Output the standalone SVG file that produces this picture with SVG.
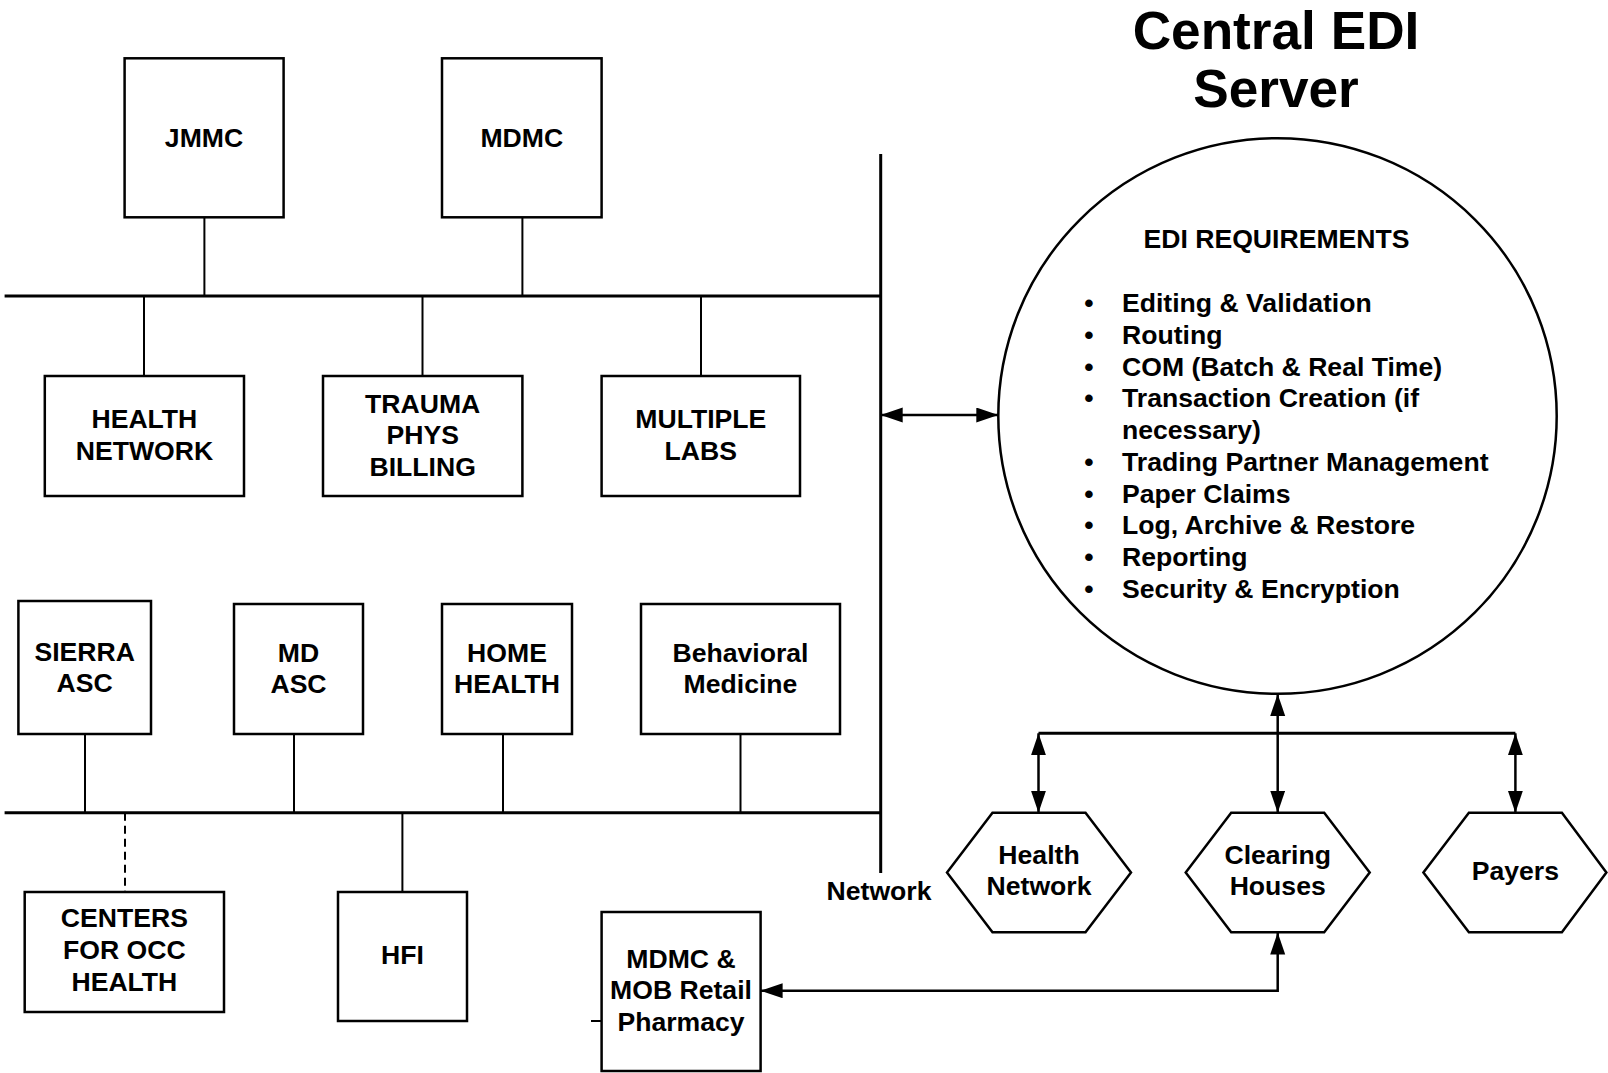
<svg xmlns="http://www.w3.org/2000/svg" width="1608" height="1073" viewBox="0 0 1608 1073">
<style>
  .box { fill: #fff; stroke: #000; stroke-width: 2.5; }
  .lbl { font-family: "Liberation Sans", Arial, sans-serif; font-weight: bold; font-size: 26.6px; fill: #000; text-anchor: middle; }
  .lst { font-family: "Liberation Sans", Arial, sans-serif; font-weight: bold; font-size: 26.6px; fill: #000; }
  .title { font-family: "Liberation Sans", Arial, sans-serif; font-weight: bold; font-size: 53.2px; fill: #000; text-anchor: middle; }
  .bus { stroke: #000; stroke-width: 3; fill: none; }
  .ln { stroke: #000; stroke-width: 2; fill: none; }
  .arr { stroke: #000; stroke-width: 2.5; fill: none; marker-start: url(#ah); marker-end: url(#ah); }
</style>
<defs>
  <marker id="ah" markerUnits="userSpaceOnUse" markerWidth="23" markerHeight="16" refX="22" refY="7.5" orient="auto-start-reverse">
    <path d="M0,0 L22,7.5 L0,15 Z" fill="#000"/>
  </marker>
</defs>
<rect width="1608" height="1073" fill="#fff"/>

<g id="title">
  <text class="title" x="1276" y="48.5">Central EDI</text>
  <text class="title" x="1276" y="107">Server</text>
</g>

<g id="connectors">
  <line class="bus" x1="4.6" y1="296" x2="880.7" y2="296"/>
  <line class="ln" x1="204.4" y1="216" x2="204.4" y2="296"/>
  <line class="ln" x1="522.4" y1="216" x2="522.4" y2="296"/>
  <line class="ln" x1="144" y1="296" x2="144" y2="376"/>
  <line class="ln" x1="422.5" y1="296" x2="422.5" y2="376"/>
  <line class="ln" x1="701" y1="296" x2="701" y2="376"/>
  <line class="bus" x1="880.7" y1="154" x2="880.7" y2="873" stroke-width="2.5"/>
  <line class="bus" x1="4.6" y1="812.7" x2="880.7" y2="812.7"/>
  <line class="ln" x1="85" y1="734" x2="85" y2="812.7"/>
  <line class="ln" x1="294" y1="734" x2="294" y2="812.7"/>
  <line class="ln" x1="503" y1="734" x2="503" y2="812.7"/>
  <line class="ln" x1="740.5" y1="734" x2="740.5" y2="812.7"/>
  <line class="ln" x1="125" y1="812.7" x2="125" y2="892" stroke-dasharray="8,5"/>
  <line class="ln" x1="402.4" y1="812.7" x2="402.4" y2="892"/>
  <line class="ln" x1="591" y1="1021" x2="601.6" y2="1021" stroke-width="1.5"/>
  <line class="arr" x1="880.7" y1="415" x2="998.3" y2="415"/>
  <line class="arr" x1="1277.7" y1="694" x2="1277.7" y2="812.7"/>
  <line class="bus" x1="1038.5" y1="733.3" x2="1515.4" y2="733.3" stroke-width="2.5"/>
  <line class="arr" x1="1038.5" y1="733.3" x2="1038.5" y2="812.7"/>
  <line class="arr" x1="1515.4" y1="733.3" x2="1515.4" y2="812.7"/>
  <polyline class="arr" points="1277.7,932.5 1277.7,990.7 760.6,990.7"/>
</g>

<g id="jmmc">
  <rect class="box" x="124.6" y="58.3" width="159" height="159"/>
  <text class="lbl" x="204" y="147">JMMC</text>
</g>
<g id="mdmc">
  <rect class="box" x="442" y="58.3" width="159.6" height="159"/>
  <text class="lbl" x="521.8" y="147">MDMC</text>
</g>
<g id="health-network-box">
  <rect class="box" x="44.8" y="376" width="199.2" height="120"/>
  <text class="lbl" x="144.4" y="427.7">HEALTH</text>
  <text class="lbl" x="144.4" y="459.5">NETWORK</text>
</g>
<g id="trauma">
  <rect class="box" x="323" y="376" width="199.4" height="120"/>
  <text class="lbl" x="422.7" y="412.5">TRAUMA</text>
  <text class="lbl" x="422.7" y="444.3">PHYS</text>
  <text class="lbl" x="422.7" y="476">BILLING</text>
</g>
<g id="labs">
  <rect class="box" x="601.6" y="376" width="198.4" height="120"/>
  <text class="lbl" x="700.8" y="427.7">MULTIPLE</text>
  <text class="lbl" x="700.8" y="459.5">LABS</text>
</g>
<g id="sierra">
  <rect class="box" x="18.4" y="601" width="132.6" height="133"/>
  <text class="lbl" x="84.7" y="660.5">SIERRA</text>
  <text class="lbl" x="84.7" y="691.5">ASC</text>
</g>
<g id="mdasc">
  <rect class="box" x="234" y="604" width="129" height="130"/>
  <text class="lbl" x="298.5" y="661.5">MD</text>
  <text class="lbl" x="298.5" y="692.5">ASC</text>
</g>
<g id="homehealth">
  <rect class="box" x="442" y="604" width="130" height="130"/>
  <text class="lbl" x="507" y="661.5">HOME</text>
  <text class="lbl" x="507" y="692.5">HEALTH</text>
</g>
<g id="behavioral">
  <rect class="box" x="641" y="604" width="199" height="130"/>
  <text class="lbl" x="740.5" y="661.5">Behavioral</text>
  <text class="lbl" x="740.5" y="692.5">Medicine</text>
</g>
<g id="centers">
  <rect class="box" x="24.7" y="892" width="199.3" height="120"/>
  <text class="lbl" x="124.4" y="927">CENTERS</text>
  <text class="lbl" x="124.4" y="959">FOR OCC</text>
  <text class="lbl" x="124.4" y="990.7">HEALTH</text>
</g>
<g id="hfi">
  <rect class="box" x="338" y="892" width="129" height="129"/>
  <text class="lbl" x="402.5" y="964">HFI</text>
</g>
<g id="pharmacy">
  <rect class="box" x="601.6" y="912" width="159" height="159"/>
  <text class="lbl" x="681" y="968">MDMC &amp;</text>
  <text class="lbl" x="681" y="999">MOB Retail</text>
  <text class="lbl" x="681" y="1030.7">Pharmacy</text>
</g>
<g id="network-label">
  <text class="lbl" x="879" y="899.5">Network</text>
</g>

<g id="edi-server">
  <ellipse class="box" cx="1277.5" cy="416" rx="279.2" ry="277.8"/>
  <text class="lbl" x="1276.5" y="248">EDI REQUIREMENTS</text>
  <g class="lst">
    <text x="1089" y="312" text-anchor="middle">•</text><text x="1122" y="312">Editing &amp; Validation</text>
    <text x="1089" y="343.8" text-anchor="middle">•</text><text x="1122" y="343.8">Routing</text>
    <text x="1089" y="375.5" text-anchor="middle">•</text><text x="1122" y="375.5">COM (Batch &amp; Real Time)</text>
    <text x="1089" y="407.3" text-anchor="middle">•</text><text x="1122" y="407.3">Transaction Creation (if</text>
    <text x="1122" y="439">necessary)</text>
    <text x="1089" y="470.8" text-anchor="middle">•</text><text x="1122" y="470.8">Trading Partner Management</text>
    <text x="1089" y="502.5" text-anchor="middle">•</text><text x="1122" y="502.5">Paper Claims</text>
    <text x="1089" y="534.3" text-anchor="middle">•</text><text x="1122" y="534.3">Log, Archive &amp; Restore</text>
    <text x="1089" y="566" text-anchor="middle">•</text><text x="1122" y="566">Reporting</text>
    <text x="1089" y="597.8" text-anchor="middle">•</text><text x="1122" y="597.8">Security &amp; Encryption</text>
  </g>
</g>

<g id="hex-health-network">
  <polygon class="box" points="947,872.5 992.5,812.7 1085.5,812.7 1131,872.5 1085.5,932.3 992.5,932.3"/>
  <text class="lbl" x="1039" y="863.5">Health</text>
  <text class="lbl" x="1039" y="895.3">Network</text>
</g>
<g id="hex-clearing">
  <polygon class="box" points="1185.7,872.5 1231.2,812.7 1324.2,812.7 1369.7,872.5 1324.2,932.3 1231.2,932.3"/>
  <text class="lbl" x="1277.7" y="863.5">Clearing</text>
  <text class="lbl" x="1277.7" y="895.3">Houses</text>
</g>
<g id="hex-payers">
  <polygon class="box" points="1423.4,872.5 1468.9,812.7 1561.9,812.7 1606.4,872.5 1561.9,932.3 1468.9,932.3"/>
  <text class="lbl" x="1515.4" y="880">Payers</text>
</g>
</svg>
